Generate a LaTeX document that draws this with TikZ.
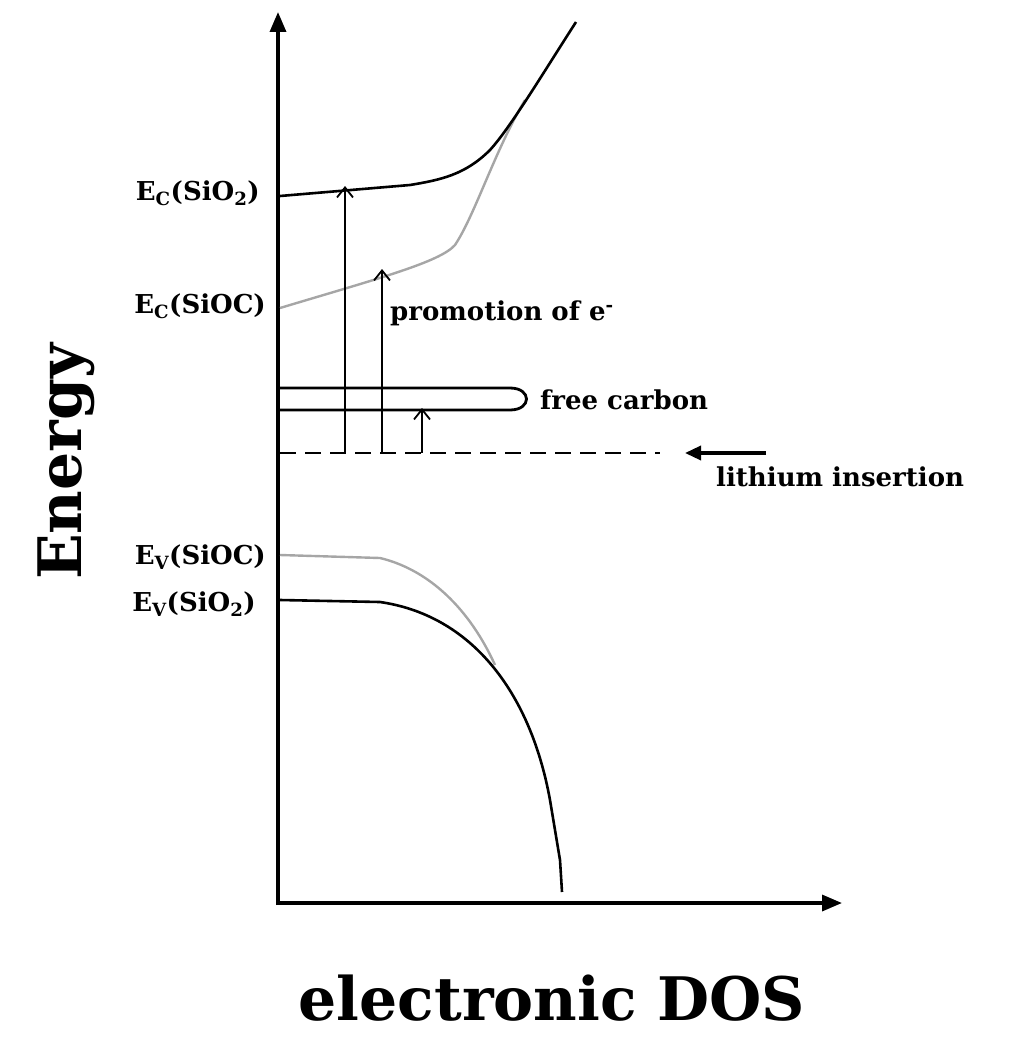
\documentclass[tikz,border=0pt]{standalone}
\usepackage{fontspec}
\setmainfont{DejaVu Serif}
\usetikzlibrary{arrows.meta}
\begin{document}
\begin{tikzpicture}[x=1pt,y=-1pt,
  lbl/.style={font=\fontsize{26}{30}\selectfont\bfseries,inner sep=0},
  curve/.style={line width=2.6pt},
  gcurve/.style={line width=2.4pt,draw=gray!70},
  up/.style={line width=1.8pt,-{Straight Barb[length=10pt,width=16pt]}}]
\useasboundingbox (0,0) rectangle (1024,1041);
\coordinate (o) at (278,903);
\coordinate (ytop) at (278,12);
\coordinate (xend) at (842,903);
\draw[line width=3.4pt,-{Triangle[length=20pt,width=16pt]}] (278,905) -- (ytop);
\draw[line width=3.4pt,-{Triangle[length=20pt,width=16pt]}] (276,903) -- (xend);
% conduction bands
\draw[gcurve] (280,308) .. controls (380,278) and (440,262) .. (455,245) .. controls (475,215) and (495,150) .. (525,100);
\draw[curve] (280,196) -- (410,185) .. controls (440,180) and (465,175) .. (490,150) .. controls (510,128) and (540,78) .. (576,22);
% valence bands
\draw[gcurve] (280,555) -- (380,558) .. controls (430,570) and (470,610) .. (495,665);
\draw[curve] (280,600) -- (380,602) .. controls (470,615) and (530,690) .. (550,800) -- (560,860) -- (562,892);
% free carbon
\draw[line width=2.8pt] (280,388) -- (510,388) .. controls (532,388) and (532,410) .. (510,410) -- (280,410);
% lithium line
\coordinate (d1) at (280,453);
\coordinate (d2) at (660,453);
\draw[line width=2.4pt,dash pattern=on 16pt off 9pt] (d1) -- (d2);
\draw[line width=3.4pt,-{Triangle[length=16pt,width=14pt]}] (766,453) -- (685,453);
\draw[up] (345,453) -- (345,186);
\draw[up] (382,453) -- (382,269);
\draw[up] (422,453) -- (422,408);
% labels
\node[lbl,anchor=east] (ec1) at (260,193) {E\textsubscript{C}(SiO\textsubscript{2})};
\node[lbl,anchor=east] (ec2) at (266,306) {E\textsubscript{C}(SiOC)};
\node[lbl,anchor=east] (ev1) at (266,557) {E\textsubscript{V}(SiOC)};
\node[lbl,anchor=east] (ev2) at (256,604) {E\textsubscript{V}(SiO\textsubscript{2})};
\node[lbl,anchor=west] (pr) at (390,313) {promotion of e\textsuperscript{-}};
\node[lbl,anchor=west] (fc) at (540,400) {free carbon};
\node[lbl,anchor=west] (li) at (716,477) {lithium insertion};
\node[font=\fontsize{60}{66}\selectfont\bfseries,rotate=90,inner sep=0] (en) at (66,462) {Energy};
\node[font=\fontsize{60}{66}\selectfont\bfseries,inner sep=0] (dos) at (552,998) {electronic DOS};
\end{tikzpicture}
\end{document}
